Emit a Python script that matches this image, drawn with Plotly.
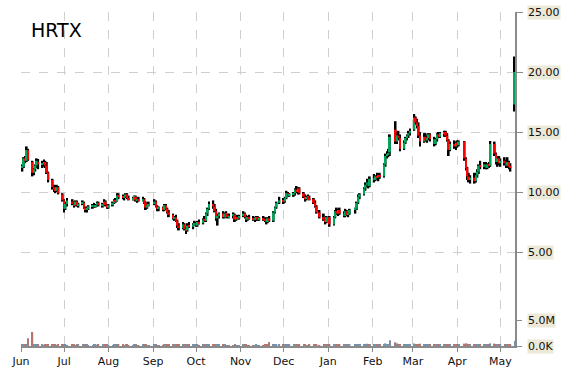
import plotly.graph_objects as go
import pandas as pd

TICKER = "HRTX"
HOLIDAYS = ["2014-07-04", "2014-09-01", "2014-11-27", "2014-12-25",
            "2015-01-01", "2015-01-19", "2015-02-16", "2015-04-03"]
EXTRA_DAYS = ["2015-05-11"]
MONTH_LABELS = ["Jun", "Jul", "Aug", "Sep", "Oct", "Nov", "Dec", "Jan", "Feb", "Mar", "Apr", "May"]
PRICE_TICKS = [5, 10, 15, 20, 25]
PRICE_TICK_TEXT = ["5.00", "10.00", "15.00", "20.00", "25.00"]
VOL_TICKS = [0, 5]
VOL_TICK_TEXT = ["0.0K", "5.0M"]

opens = [
    12.0, 12.1, 12.8, 12.6, 13.5,
    12.5, 11.6, 11.9, 12.2, 12.5,
    12.3, 12.4, 12.5, 12.2, 11.6,
    11.0, 10.4, 10.2, 10.1, 10.4,
    9.8, 9.3, 8.6, 9.0,
    9.2, 9.0, 8.9, 9.2, 8.9,
    9.0, 9.1, 8.7, 8.5, 8.6,
    8.8, 8.9, 8.8, 8.9, 9.1,
    8.9, 9.0, 9.2, 8.9, 8.7,
    8.9, 9.1, 9.3, 9.2, 9.7,
    9.6, 9.5, 9.6, 9.8, 9.5,
    9.4, 9.5, 9.6, 9.3, 9.4,
    9.3, 9.4, 9.1, 8.7, 8.9,
    9.0, 9.2, 8.8, 8.6,
    8.7, 8.5, 8.9, 8.6, 8.3,
    8.1, 7.8, 7.9, 7.6, 7.2,
    7.0, 7.3, 6.9, 6.8, 7.2,
    7.1, 7.3, 7.4, 7.2, 7.5,
    7.4, 7.7, 7.6, 8.2, 8.6,
    9.0, 8.8, 8.4, 7.8, 8.0,
    8.2, 7.9, 8.2, 8.1, 7.9,
    8.0, 8.1, 7.7, 7.9, 7.8,
    8.0, 8.2, 7.9, 7.7, 7.9,
    7.8, 7.7, 7.8, 7.9, 7.7,
    7.8, 7.7, 7.6, 7.5, 7.8,
    7.6, 8.3, 8.7, 9.1,
    9.3, 9.2, 9.5, 9.9, 9.7,
    9.8, 9.9, 10.2, 10.0, 10.3,
    9.9, 9.6, 9.4, 9.6, 9.5,
    9.4, 9.1, 8.8, 8.3,
    7.9, 7.7, 7.5, 7.9,
    7.3, 7.9, 8.4, 8.2, 8.5,
    8.2, 8.0, 8.4, 8.1, 8.2,
    8.5, 8.6, 9.1, 9.6,
    9.8, 10.3, 10.6, 10.8, 10.5,
    11.1, 11.0, 11.3, 11.2, 11.4,
    11.3, 12.3, 13.0, 13.1, 13.3,
    15.2, 14.2, 14.7, 14.5,
    13.6, 14.1, 14.5, 14.7, 14.9,
    15.2, 16.2, 15.8, 15.5, 14.7,
    14.2, 14.6, 14.3, 14.5, 14.8,
    14.4, 14.0, 14.4, 14.8, 14.6,
    14.9, 15.0, 14.7, 14.3, 13.5,
    14.0, 13.8, 14.1, 13.9,
    14.2, 12.8, 12.0, 11.3, 11.0,
    11.2, 10.9, 11.4, 11.7, 12.2,
    12.1, 12.3, 12.0, 12.3, 12.2,
    14.0, 13.2, 12.5, 12.8, 12.4,
    12.6, 12.4, 12.2, 12.5, 12.1,
    17.3,
]

highs = [
    12.3, 12.9, 13.0, 13.8, 13.6,
    12.6, 12.0, 12.3, 12.8, 12.75,
    12.6, 12.7, 12.6, 12.5, 11.7,
    11.1, 10.6, 10.5, 10.6, 10.5,
    9.9, 9.4, 9.2, 9.5,
    9.4, 9.2, 9.3, 9.3, 9.1,
    9.3, 9.2, 8.8, 8.8, 8.9,
    9.0, 9.1, 9.0, 9.2, 9.2,
    9.1, 9.4, 9.3, 9.0, 9.0,
    9.2, 9.4, 9.5, 9.9, 9.9,
    9.8, 9.7, 9.9, 9.9, 9.7,
    9.6, 9.7, 9.7, 9.5, 9.6,
    9.6, 9.5, 9.2, 9.0, 9.2,
    9.4, 9.3, 8.9, 8.8,
    8.8, 9.0, 9.0, 8.7, 8.5,
    8.2, 8.0, 8.1, 7.7, 7.4,
    7.5, 7.4, 7.1, 7.4, 7.5,
    7.4, 7.6, 7.5, 7.6, 7.7,
    7.8, 8.0, 8.3, 8.7, 9.2,
    9.3, 9.0, 8.6, 8.2, 8.3,
    8.4, 8.3, 8.4, 8.2, 8.2,
    8.3, 8.2, 8.0, 8.1, 8.1,
    8.4, 8.3, 8.1, 8.0, 8.1,
    8.0, 7.9, 8.0, 8.0, 7.9,
    8.0, 7.9, 7.8, 7.9, 8.0,
    8.4, 8.8, 9.2, 9.6,
    9.5, 9.6, 10.1, 10.0, 9.9,
    10.0, 10.3, 10.5, 10.4, 10.4,
    10.0, 9.8, 9.7, 9.8, 9.7,
    9.5, 9.3, 8.9, 8.5,
    8.2, 7.9, 8.0, 8.0,
    8.0, 8.5, 8.7, 8.6, 8.7,
    8.4, 8.6, 8.5, 8.3, 8.6,
    8.7, 9.2, 9.8, 9.9,
    10.4, 10.8, 11.1, 11.0, 11.3,
    11.5, 11.4, 11.6, 11.5, 11.6,
    12.4, 13.2, 13.4, 13.6, 14.8,
    15.9, 15.0, 15.1, 14.8,
    14.3, 14.6, 14.8, 15.1, 15.3,
    16.5, 16.3, 16.1, 15.8, 15.0,
    14.9, 14.9, 14.7, 14.9, 14.9,
    14.6, 14.5, 14.9, 15.0, 15.0,
    15.1, 15.1, 14.9, 14.4, 14.2,
    14.3, 14.2, 14.3, 14.3,
    14.25, 12.9, 12.1, 11.6, 11.4,
    11.6, 11.6, 11.9, 12.3, 12.6,
    12.5, 12.5, 12.4, 12.5, 14.25,
    14.2, 13.3, 13.0, 13.0, 12.8,
    12.9, 12.7, 12.9, 12.6, 12.4,
    21.3,
]

lows = [
    11.7, 12.0, 12.4, 12.5, 12.6,
    11.3, 11.4, 11.7, 12.0, 11.9,
    12.0, 12.1, 12.0, 11.5, 10.8,
    10.2, 10.0, 9.9, 10.0, 9.8,
    9.2, 8.3, 8.5, 8.8,
    8.9, 8.7, 8.8, 8.8, 8.7,
    8.9, 8.6, 8.3, 8.3, 8.5,
    8.6, 8.7, 8.7, 8.8, 8.8,
    8.7, 8.9, 8.8, 8.6, 8.6,
    8.8, 9.0, 9.1, 9.2, 9.4,
    9.4, 9.3, 9.5, 9.4, 9.3,
    9.3, 9.4, 9.2, 9.1, 9.2,
    9.2, 9.0, 8.5, 8.6, 8.8,
    8.9, 8.7, 8.4, 8.4,
    8.4, 8.4, 8.5, 8.2, 7.9,
    7.7, 7.6, 7.5, 7.0, 6.8,
    6.9, 6.8, 6.5, 6.7, 7.0,
    6.9, 7.2, 7.1, 7.1, 7.3,
    7.3, 7.5, 7.5, 8.0, 8.5,
    8.6, 8.3, 7.6, 7.2, 7.8,
    7.8, 7.8, 8.0, 7.8, 7.8,
    7.8, 7.5, 7.6, 7.7, 7.7,
    7.9, 7.8, 7.5, 7.6, 7.7,
    7.6, 7.5, 7.6, 7.6, 7.6,
    7.6, 7.5, 7.3, 7.4, 7.5,
    7.5, 8.2, 8.6, 9.0,
    9.0, 9.1, 9.4, 9.6, 9.6,
    9.6, 9.7, 9.9, 9.8, 9.8,
    9.5, 9.2, 9.3, 9.4, 9.3,
    9.0, 8.7, 8.2, 7.8,
    7.6, 7.3, 7.4, 7.1,
    7.2, 7.8, 8.1, 8.0, 8.1,
    7.9, 7.9, 8.0, 7.9, 8.1,
    8.2, 8.5, 9.0, 9.4,
    9.7, 10.1, 10.4, 10.3, 10.4,
    10.8, 10.9, 11.0, 10.9, 11.1,
    11.2, 12.1, 12.8, 12.9, 13.0,
    14.0, 14.0, 14.3, 13.4,
    13.5, 14.0, 14.3, 14.5, 14.7,
    15.1, 15.6, 15.3, 14.5, 13.8,
    14.1, 14.2, 14.1, 14.3, 14.2,
    13.8, 13.9, 14.2, 14.5, 14.5,
    14.6, 14.6, 14.2, 13.0, 13.4,
    13.6, 13.5, 13.7, 13.8,
    12.6, 11.8, 11.0, 10.8, 10.7,
    10.7, 10.8, 11.2, 11.5, 11.9,
    11.9, 11.9, 11.9, 12.0, 12.1,
    13.0, 12.3, 12.1, 12.2, 12.1,
    12.2, 12.0, 12.0, 11.9, 11.7,
    16.7,
]

closes = [
    12.1, 12.8, 12.6, 13.5, 12.7,
    11.6, 11.9, 12.2, 12.6, 12.3,
    12.4, 12.5, 12.2, 11.6, 11.0,
    10.4, 10.2, 10.1, 10.4, 9.9,
    9.3, 8.6, 9.0, 9.3,
    9.0, 8.9, 9.2, 8.9, 9.0,
    9.1, 8.7, 8.5, 8.6, 8.8,
    8.9, 8.8, 8.9, 9.1, 8.9,
    9.0, 9.2, 8.9, 8.7, 8.9,
    9.1, 9.3, 9.2, 9.7, 9.6,
    9.5, 9.6, 9.8, 9.5, 9.4,
    9.5, 9.6, 9.3, 9.4, 9.3,
    9.4, 9.1, 8.7, 8.9, 9.0,
    9.2, 8.8, 8.6, 8.7,
    8.5, 8.9, 8.6, 8.3, 8.1,
    7.8, 7.9, 7.6, 7.2, 7.0,
    7.3, 6.9, 6.8, 7.2, 7.1,
    7.3, 7.4, 7.2, 7.5, 7.4,
    7.7, 7.6, 8.2, 8.6, 9.0,
    8.8, 8.4, 7.8, 8.0, 8.2,
    7.9, 8.2, 8.1, 7.9, 8.0,
    8.1, 7.7, 7.9, 7.8, 8.0,
    8.2, 7.9, 7.7, 7.9, 7.8,
    7.7, 7.8, 7.9, 7.7, 7.8,
    7.7, 7.6, 7.5, 7.8, 7.6,
    8.3, 8.7, 9.1, 9.3,
    9.2, 9.5, 9.9, 9.7, 9.8,
    9.9, 10.2, 10.0, 10.3, 9.9,
    9.6, 9.4, 9.6, 9.5, 9.4,
    9.1, 8.8, 8.3, 7.9,
    7.7, 7.5, 7.9, 7.3,
    7.9, 8.4, 8.2, 8.5, 8.2,
    8.0, 8.4, 8.1, 8.2, 8.5,
    8.6, 9.1, 9.6, 9.8,
    10.3, 10.6, 10.8, 10.5, 11.1,
    11.0, 11.3, 11.2, 11.4, 11.3,
    12.3, 13.0, 13.1, 13.2, 14.6,
    14.2, 14.7, 14.5, 13.6,
    14.1, 14.5, 14.7, 14.9, 15.1,
    16.2, 15.8, 15.5, 14.7, 14.2,
    14.6, 14.3, 14.5, 14.8, 14.4,
    14.0, 14.4, 14.8, 14.6, 14.9,
    15.0, 14.7, 14.3, 13.5, 14.0,
    13.8, 14.1, 13.9, 14.2,
    12.8, 12.0, 11.3, 11.0, 11.2,
    10.9, 11.4, 11.7, 12.2, 12.1,
    12.3, 12.0, 12.3, 12.2, 14.0,
    13.2, 12.5, 12.8, 12.4, 12.6,
    12.4, 12.2, 12.5, 12.1, 12.0,
    20.0,
]

volumes_m = [
    0.2, 0.25, 0.2, 0.3, 1.5,
    2.7, 0.4, 0.3, 0.25, 0.2,
    0.2, 0.15, 0.2, 0.25, 0.3,
    0.3, 0.2, 0.2, 0.15, 0.2,
    0.25, 0.35, 0.2, 0.15,
    0.2, 0.2, 0.15, 0.2, 0.2,
    0.2, 0.25, 0.3, 0.2, 0.15,
    0.15, 0.2, 0.2, 0.15, 0.2,
    0.2, 0.25, 0.2, 0.2, 0.15,
    0.15, 0.2, 0.2, 0.3, 0.2,
    0.2, 0.15, 0.2, 0.2, 0.15,
    0.15, 0.2, 0.2, 0.15, 0.15,
    0.2, 0.2, 0.25, 0.15, 0.15,
    0.2, 0.2, 0.15, 0.15,
    0.15, 0.2, 0.2, 0.2, 0.25,
    0.2, 0.2, 0.25, 0.3, 0.3,
    0.25, 0.2, 0.3, 0.2, 0.2,
    0.2, 0.2, 0.2, 0.2, 0.15,
    0.2, 0.2, 0.3, 0.3, 0.35,
    0.3, 0.25, 0.3, 0.3, 0.2,
    0.2, 0.2, 0.15, 0.15, 0.15,
    0.15, 0.2, 0.15, 0.15, 0.15,
    0.2, 0.2, 0.2, 0.15, 0.15,
    0.15, 0.15, 0.2, 0.15, 0.15,
    0.15, 0.2, 0.2, 0.2, 0.75,
    0.3, 0.3, 0.3, 0.2,
    0.2, 0.25, 0.3, 0.2, 0.2,
    0.2, 0.25, 0.25, 0.2, 0.2,
    0.2, 0.2, 0.15, 0.15, 0.2,
    0.2, 0.2, 0.25, 0.15,
    0.2, 0.2, 0.2, 0.2,
    0.25, 0.3, 0.2, 0.2, 0.2,
    0.2, 0.25, 0.2, 0.2, 0.2,
    0.25, 0.3, 0.4, 0.3,
    0.35, 0.4, 0.45, 0.3, 0.4,
    0.3, 0.3, 0.25, 0.25, 0.25,
    0.4, 0.5, 0.4, 0.3, 1.1,
    0.7, 0.5, 0.4, 0.4,
    0.3, 0.3, 0.3, 0.35, 0.4,
    0.5, 0.4, 0.35, 0.4, 0.45,
    0.3, 0.3, 0.25, 0.3, 0.25,
    0.3, 0.3, 0.3, 0.25, 0.3,
    0.25, 0.3, 0.35, 0.4, 0.3,
    0.3, 0.25, 0.25, 0.25,
    0.45, 0.5, 0.45, 0.4, 0.3,
    0.35, 0.3, 0.3, 0.35, 0.3,
    0.25, 0.25, 0.3, 0.25, 0.5,
    0.45, 0.4, 0.3, 0.3, 0.25,
    0.25, 0.25, 0.3, 0.3, 0.3,
    1.0,
]

# ---- trading dates ----
dates = [d for d in pd.bdate_range("2014-06-02", "2015-05-08")
         if d.strftime("%Y-%m-%d") not in HOLIDAYS]
dates += [pd.Timestamp(d) for d in EXTRA_DAYS]
n = min(len(dates), len(opens), len(highs), len(lows), len(closes), len(volumes_m))
dates = dates[:n]
opens, highs, lows, closes, volumes_m = opens[:n], highs[:n], lows[:n], closes[:n], volumes_m[:n]

UP = "#00a65a"
DOWN = "#ff0000"
DAY_MS = 86400000

body_base = [min(o, c) for o, c in zip(opens, closes)]
body_h = [max(abs(c - o), 0.05) for o, c in zip(opens, closes)]
body_col = [UP if c >= o else DOWN for o, c in zip(opens, closes)]
wick_h = [h - l for h, l in zip(highs, lows)]
vol_col = ["#4a6f8f" if c >= o else "#9a4a3e" for o, c in zip(opens, closes)]

fig = go.Figure()

# volume
fig.add_trace(go.Bar(x=dates, y=volumes_m, yaxis="y2", width=DAY_MS * 1.0,
                     marker=dict(color=vol_col, line=dict(width=0)), opacity=0.75,
                     showlegend=False, hoverinfo="skip"))

# wicks (high-low)
fig.add_trace(go.Bar(x=dates, y=wick_h, base=lows, width=DAY_MS * 1.25,
                     marker=dict(color="black", line=dict(width=0)),
                     showlegend=False, hoverinfo="skip"))

# bodies (open-close)
fig.add_trace(go.Bar(x=dates, y=body_h, base=body_base, width=DAY_MS * 1.25,
                     marker=dict(color=body_col, line=dict(width=0)),
                     showlegend=False, hoverinfo="skip"))

month_ticks = pd.date_range("2014-06-01", "2015-05-01", freq="MS")

fig.update_layout(
    width=570, height=370,
    margin=dict(l=21, r=55, t=12, b=24, autoexpand=False),
    paper_bgcolor="white", plot_bgcolor="white",
    barmode="overlay",
    font=dict(family="DejaVu Sans", size=11, color="#111"),
    xaxis=dict(
        type="date",
        automargin=False,
        range=["2014-06-01", "2015-05-11 04:00"],
        tickvals=list(month_ticks), ticktext=MONTH_LABELS,
        showgrid=True, gridcolor="#cfcfcf", griddash="dash", gridwidth=1,
        showline=True, linecolor="#8a8a8a", linewidth=2,
        ticks="outside", ticklen=4, tickcolor="#8a8a8a",
        tickfont=dict(size=11, family="DejaVu Sans", color="#111"),
        zeroline=False,
    ),
    yaxis=dict(
        automargin=False,
        range=[25 - 334 / 12, 25],
        side="right",
        tickvals=PRICE_TICKS, showticklabels=False,
        ticks="outside", ticklen=6, tickcolor="#8a8a8a",
        showgrid=True, gridcolor="#cfcfcf", griddash="dash", gridwidth=1,
        showline=True, linecolor="#8a8a8a", linewidth=2,
        zeroline=False,
    ),
    yaxis2=dict(
        automargin=False,
        overlaying="y", side="right",
        range=[0, 334 / 26 * 5],
        tickvals=VOL_TICKS, showticklabels=False,
        ticks="outside", ticklen=6, tickcolor="#8a8a8a",
        showgrid=False, zeroline=False, showline=False,
    ),
)

annotations = [dict(text=TICKER, xref="paper", yref="paper", x=0.016, y=0.985,
                    xanchor="left", yanchor="top", showarrow=False,
                    font=dict(size=19, family="DejaVu Sans", color="black"))]
for v, t in zip(PRICE_TICKS, PRICE_TICK_TEXT):
    annotations.append(dict(text=t, xref="paper", yref="y", x=1, y=v, xshift=12,
                            xanchor="left", yanchor="middle", showarrow=False,
                            bgcolor="#ECE9D8", borderpad=0,
                            font=dict(size=11, family="DejaVu Sans", color="#111")))
for v, t in zip(VOL_TICKS, VOL_TICK_TEXT):
    annotations.append(dict(text=t, xref="paper", yref="y2", x=1, y=v, xshift=12,
                            xanchor="left", yanchor="middle", showarrow=False,
                            bgcolor="#ECE9D8", borderpad=0,
                            font=dict(size=11, family="DejaVu Sans", color="#111")))
fig.update_layout(annotations=annotations)

fig.write_html("out.html")
